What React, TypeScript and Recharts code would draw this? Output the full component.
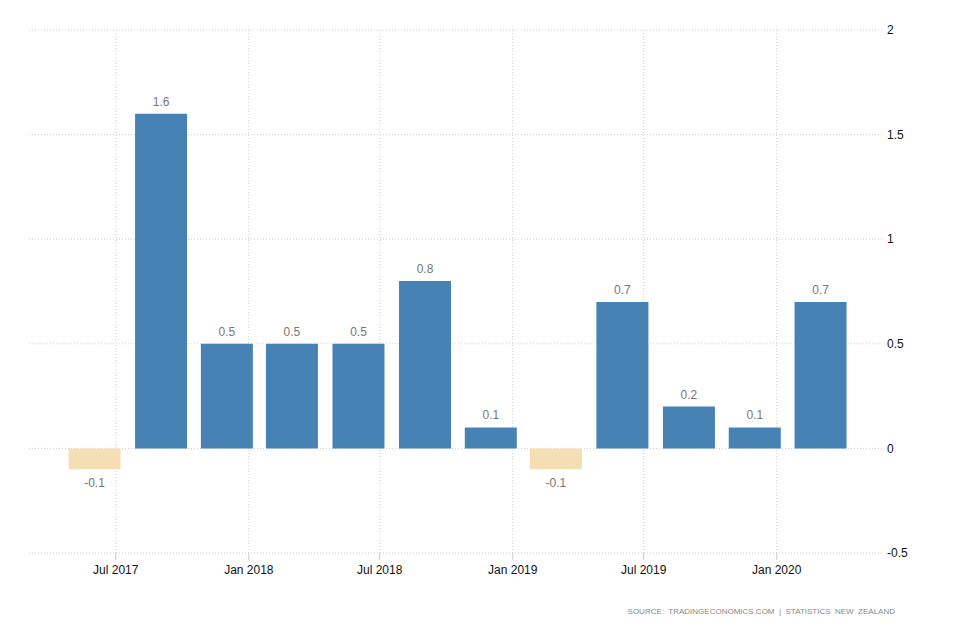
import React from "react";
import {
  BarChart,
  Bar,
  XAxis,
  YAxis,
  CartesianGrid,
  Cell,
  LabelList,
} from "recharts";

// quarter-end months, plotted at the start of the month
const quarters = [
  "2017-06", "2017-09", "2017-12", "2018-03", "2018-06", "2018-09",
  "2018-12", "2019-03", "2019-06", "2019-09", "2019-12", "2020-03",
];
const growth = [-0.1, 1.6, 0.5, 0.5, 0.5, 0.8, 0.1, -0.1, 0.7, 0.2, 0.1, 0.7];

const tickMonths = ["2017-07", "2018-01", "2018-07", "2019-01", "2019-07", "2020-01"];
const tickLabels = ["Jul 2017", "Jan 2018", "Jul 2018", "Jan 2019", "Jul 2019", "Jan 2020"];
const yTicks = [-0.5, 0, 0.5, 1, 1.5, 2];

const toTime = (ym: string) => {
  const [y, m] = ym.split("-").map(Number);
  return Date.UTC(y, m - 1, 1);
};

const data = quarters.map((q, i) => ({ t: toTime(q), value: growth[i] }));
const xTicks = tickMonths.map(toTime);
const xDomain = [Date.UTC(2017, 2, 3), Date.UTC(2020, 4, 27)];

const FONT = "'Liberation Sans', Arial, sans-serif";

function ValueLabel(props: any) {
  const { x, y, width, height, value } = props;
  const top = Math.min(y, y + height);
  const bottom = Math.max(y, y + height);
  const cx = x + width / 2;
  const ty = value >= 0 ? top - 8 : bottom + 18;
  return (
    <text x={cx} y={ty} textAnchor="middle" fill="#777" fontSize={12} fontFamily={FONT}>
      {value}
    </text>
  );
}

// vertical grid only at the date ticks (same linear time mapping as the axis)
const verticalLines = (p: any) => {
  const { left, width } = p.offset;
  return xTicks.map(
    (t) => left + ((t - xDomain[0]) / (xDomain[1] - xDomain[0])) * width
  );
};

export default function App() {
  return (
    <div style={{ position: "absolute", left: 0, top: 0, width: 954, height: 636, background: "#fff" }}>
      <BarChart
        width={954}
        height={636}
        data={data}
        margin={{ top: 30, right: 0, left: 29, bottom: 53 }}
      >
        <CartesianGrid
          stroke="#cfcfcf"
          strokeDasharray="1 2"
          verticalCoordinatesGenerator={verticalLines}
        />
        <XAxis
          dataKey="t"
          type="number"
          scale="time"
          domain={xDomain}
          ticks={xTicks}
          tickFormatter={(v: number) => tickLabels[xTicks.indexOf(v)] ?? ""}
          axisLine={false}
          tickLine={{ stroke: "#cccccc" }}
          tickSize={7}
          tickMargin={5}
          height={30}
          tick={{ fill: "#111", fontSize: 12, fontFamily: FONT }}
        />
        <YAxis
          orientation="right"
          domain={[-0.5, 2]}
          ticks={yTicks}
          axisLine={false}
          tickLine={false}
          tickSize={0}
          tickMargin={4}
          width={71}
          tick={{ fill: "#111", fontSize: 12, fontFamily: FONT, textAnchor: "start" }}
        />
        <Bar dataKey="value" barSize={52} isAnimationActive={false}>
          {data.map((d, i) => (
            <Cell key={i} fill={d.value < 0 ? "#F5DEB3" : "#4682B4"} />
          ))}
          <LabelList dataKey="value" content={ValueLabel} />
        </Bar>
      </BarChart>
      <div
        style={{
          position: "absolute",
          right: 59,
          top: 607,
          fontFamily: FONT,
          fontSize: 8,
          letterSpacing: 0,
          color: "#8a8a8a",
          whiteSpace: "pre",
        }}
      >
        {"SOURCE:  TRADINGECONOMICS.COM  |  STATISTICS  NEW  ZEALAND"}
      </div>
    </div>
  );
}
